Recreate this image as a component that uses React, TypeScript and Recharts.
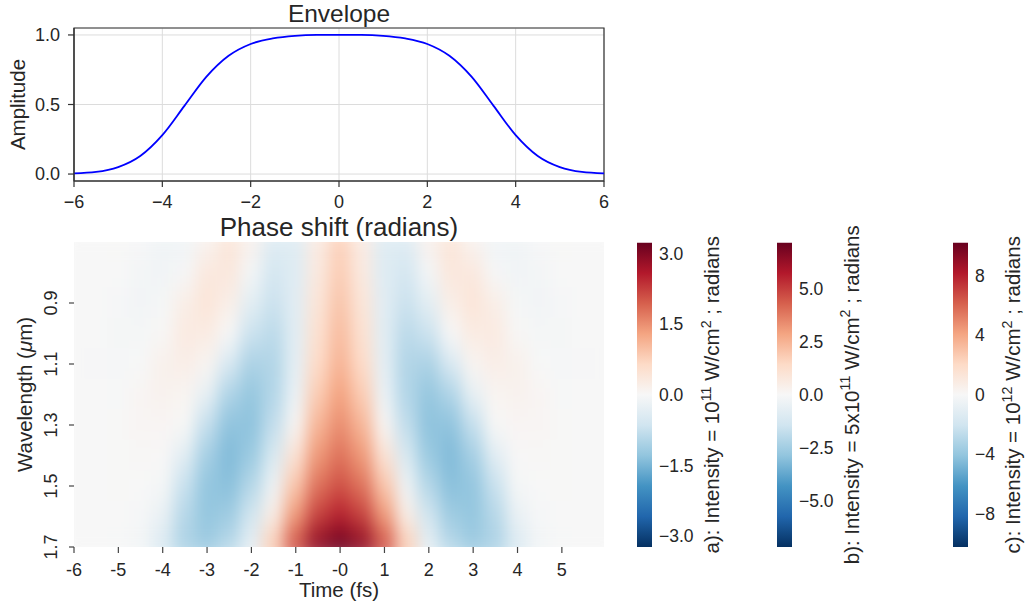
import React from 'react';
import { LineChart, Line, XAxis, YAxis, CartesianGrid, ReferenceArea, ScatterChart, Scatter, BarChart, Bar } from 'recharts';

const FONT = '"Liberation Sans", Arial, Helvetica, sans-serif';
const INK = '#262626';
const TICK_FS = 18;
const CB_TICK_FS = 17.5;
const LABEL_FS = 20.5;
const TITLE_FS = 24.5;
const HEAT_TITLE_FS = 26;

// ---------------- Envelope (top panel) ----------------
const envelopeTime = [-6, -5.5, -5, -4.5, -4, -3.5, -3, -2.5, -2, -1.5, -1, -0.5, 0, 0.5, 1, 1.5, 2, 2.5, 3, 3.5, 4, 4.5, 5, 5.5, 6];
const envelopeAmplitude = [0.005, 0.015, 0.05, 0.13, 0.28, 0.49, 0.7, 0.85, 0.935, 0.975, 0.994, 1.0, 1.0, 1.0, 0.994, 0.975, 0.935, 0.85, 0.7, 0.49, 0.28, 0.13, 0.05, 0.015, 0.005];
const envelopeXTicks = [-6, -4, -2, 0, 2, 4, 6];
const envelopeYTicks = [0, 0.5, 1.0];

// ---------------- Phase shift map ----------------
const phaseTime = [-6, -5.5, -5, -4.5, -4, -3.5, -3, -2.5, -2, -1.5, -1, -0.5, 0, 0.5, 1, 1.5, 2, 2.5, 3, 3.5, 4, 4.5, 5, 5.5, 6];
const phaseWavelength = [0.7, 0.8, 0.9, 1.0, 1.1, 1.2, 1.3, 1.4, 1.5, 1.6, 1.7];
const phase070 = [0, 0, 0.01, -0.02, -0.12, -0.12, 0.1, 0.4, 0.15, -0.4, -0.4, 0.27, 0.75, 0.27, -0.4, -0.4, 0.15, 0.4, 0.1, -0.12, -0.12, -0.02, 0.01, 0, 0];
const phase080 = [0, 0, 0, -0.07, -0.12, -0.03, 0.34, 0.36, -0.07, -0.57, -0.4, 0.32, 0.8, 0.32, -0.4, -0.57, -0.07, 0.36, 0.34, -0.03, -0.12, -0.07, 0, 0, 0];
const phase090 = [0, 0, -0.04, -0.1, -0.05, 0.21, 0.42, 0.21, -0.34, -0.7, -0.38, 0.42, 0.9, 0.42, -0.38, -0.7, -0.34, 0.21, 0.42, 0.21, -0.05, -0.1, -0.04, 0, 0];
const phase100 = [0, 0, -0.05, -0.05, 0.03, 0.3, 0.28, 0, -0.69, -0.86, -0.37, 0.51, 1.0, 0.51, -0.37, -0.86, -0.69, 0, 0.28, 0.3, 0.03, -0.05, -0.05, 0, 0];
const phase110 = [0, -0.02, -0.03, -0.01, 0.16, 0.22, 0.08, -0.49, -1.03, -0.96, -0.32, 0.62, 1.1, 0.62, -0.32, -0.96, -1.03, -0.49, 0.08, 0.22, 0.16, -0.01, -0.03, -0.02, 0];
const phase120 = [0, 0, -0.01, 0.07, 0.13, 0.08, -0.26, -0.98, -1.25, -0.95, -0.22, 0.81, 1.3, 0.81, -0.22, -0.95, -1.25, -0.98, -0.26, 0.08, 0.13, 0.07, -0.01, 0, 0];
const phase130 = [0, 0, 0.01, 0.06, 0.06, 0.01, -0.76, -1.3, -1.32, -0.8, 0.05, 1.08, 1.5, 1.08, 0.05, -0.8, -1.32, -1.3, -0.76, 0.01, 0.06, 0.06, 0.01, 0, 0];
const phase140 = [0, 0, 0.01, 0.03, 0.02, -0.35, -1.09, -1.42, -1.2, -0.52, 0.45, 1.39, 1.75, 1.39, 0.45, -0.52, -1.2, -1.42, -1.09, -0.35, 0.02, 0.03, 0.01, 0, 0];
const phase150 = [0, 0, 0.01, 0, -0.05, -0.73, -1.27, -1.35, -0.93, -0.17, 0.89, 1.74, 2.05, 1.74, 0.89, -0.17, -0.93, -1.35, -1.27, -0.73, -0.05, 0, 0.01, 0, 0];
const phase160 = [0, 0, 0, -0.03, -0.24, -0.92, -1.26, -1.15, -0.61, 0.24, 1.39, 2.2, 2.5, 2.2, 1.39, 0.24, -0.61, -1.15, -1.26, -0.92, -0.24, -0.03, 0, 0, 0];
const phase170 = [0, 0, -0.01, -0.08, -0.48, -1.0, -1.15, -0.87, -0.28, 0.83, 2.06, 2.9, 3.2, 2.9, 2.06, 0.83, -0.28, -0.87, -1.15, -1.0, -0.48, -0.08, -0.01, 0, 0];
const phaseRows = [phase070, phase080, phase090, phase100, phase110, phase120, phase130, phase140, phase150, phase160, phase170];
const phaseXTicks = [-6, -5, -4, -3, -2, -1, 0, 1, 2, 3, 4, 5];
const phaseYTicks = [0.9, 1.1, 1.3, 1.5, 1.7];
const phaseTimeMax = 5.95;

// ---------------- Colorbars ----------------
const colorbarMax = [3.23, 7.21, 10.23];
const colorbarTicksA = [-3, -1.5, 0, 1.5, 3];
const colorbarTicksB = [-5, -2.5, 0, 2.5, 5];
const colorbarTicksC = [-8, -4, 0, 4, 8];
const colorbarPrefix = ['a): Intensity = 10', 'b): Intensity = 5x10', 'c): Intensity = 10'];
const colorbarExponent = ['11', '11', '12'];

// ---------------- colormap (RdBu_r) ----------------
const RDBU_R = ['#053061', '#2166ac', '#4393c3', '#92c5de', '#d1e5f0', '#f7f7f7', '#fddbc7', '#f4a582', '#d6604d', '#b2182b', '#67001f'];
const RDBU_RGB = RDBU_R.map((h) => [parseInt(h.slice(1, 3), 16), parseInt(h.slice(3, 5), 16), parseInt(h.slice(5, 7), 16)]);
function cmap(n: number): string {
  const c = Math.min(1, Math.max(0, n)) * 10;
  const i = Math.min(9, Math.floor(c));
  const f = c - i;
  const a = RDBU_RGB[i];
  const b = RDBU_RGB[i + 1];
  const m = (k: number) => Math.round(a[k] + (b[k] - a[k]) * f);
  return `rgb(${m(0)},${m(1)},${m(2)})`;
}

const minusFmt = (v: number | string) => String(v).replace('-', '\u2212');

// layout
const PLOT_LEFT = 74;
const PLOT_W = 530;
const HEAT_H = 305;
const CELL_W = (0.5 * PLOT_W) / (phaseTimeMax + 6);
const CELL_H = 0.1 * HEAT_H;
const heatVmax = colorbarMax[0];

const envelopeData = envelopeTime.map((t, i) => ({ t, a: envelopeAmplitude[i] }));
const heatData: { t: number; w: number; v: number }[] = [];
phaseRows.forEach((row, i) => {
  row.forEach((v, j) => heatData.push({ t: phaseTime[j], w: phaseWavelength[i], v }));
});

function HeatCell(props: any) {
  const { cx, cy, payload } = props;
  if (cx == null || cy == null || !payload) return null;
  return (
    <rect
      x={cx - CELL_W / 2 - 0.5}
      y={cy - CELL_H / 2 - 0.5}
      width={CELL_W + 1}
      height={CELL_H + 1}
      fill={cmap(0.5 + payload.v / (2 * heatVmax))}
    />
  );
}

function RotText({ cx, cy, fs, children }: { cx: number; cy: number; fs: number; children: React.ReactNode }) {
  const bx = cx + 0.35 * fs;
  return (
    <text x={bx} y={cy} transform={`rotate(-90 ${bx} ${cy})`} textAnchor="middle" fontSize={fs} fill={INK} fontFamily={FONT}>
      {children}
    </text>
  );
}

function HeatYTick(props: any) {
  const { x, y, payload } = props;
  return (
    <RotText cx={x - 16} cy={y} fs={TICK_FS}>
      {payload.value.toFixed(1)}
    </RotText>
  );
}

function Colorbar({ idx, left, ticks, fmt, labelGap, axisWidth }: any) {
  const max = colorbarMax[idx];
  const data = [{ k: 'cb', r: [-max, max] }];
  const renderLabel = (p: any) => {
    const vb = p.viewBox || { x: 15, y: 242.5, width: axisWidth, height: 304.5 };
    const cx = vb.x + labelGap;
    const cy = vb.y + vb.height / 2;
    const s = LABEL_FS * 0.7;
    const up = LABEL_FS * 0.42;
    return (
      <RotText cx={cx} cy={cy} fs={LABEL_FS}>
        {colorbarPrefix[idx]}
        <tspan fontSize={s} dy={-up}>{colorbarExponent[idx]}</tspan>
        <tspan dy={up}>{' W/cm'}</tspan>
        <tspan fontSize={s} dy={-up}>2</tspan>
        <tspan dy={up}>{' ; radians'}</tspan>
      </RotText>
    );
  };
  return (
    <div style={{ position: 'absolute', left, top: 0 }}>
      <BarChart width={15 + axisWidth} height={608} data={data} margin={{ top: 242.5, right: 0, bottom: 61, left: 0 }} barCategoryGap={0} barGap={0}>
        <XAxis dataKey="k" type="category" hide />
        <YAxis
          orientation="right"
          type="number"
          domain={[-max, max]}
          allowDataOverflow
          ticks={ticks}
          interval={0}
          tickFormatter={fmt}
          tickLine={false}
          axisLine={false}
          tickSize={5}
          tickMargin={2}
          width={axisWidth}
          tick={{ fill: INK, fontSize: CB_TICK_FS, fontFamily: FONT }}
          label={renderLabel}
        />
        <Bar dataKey="r" fill="url(#cbGrad)" isAnimationActive={false} />
      </BarChart>
    </div>
  );
}

export default function App() {
  const tickStyle = { fill: INK, fontSize: TICK_FS, fontFamily: FONT };
  return (
    <div style={{ position: 'absolute', left: 0, top: 0, width: 1026, height: 608, overflow: 'hidden', background: '#ffffff', fontFamily: FONT }}>
      <style>{`.heat-chart .recharts-scatter { filter: url(#heatBlur); }`}</style>
      <svg width={0} height={0} style={{ position: 'absolute' }}>
        <defs>
          <linearGradient id="cbGrad" x1="0" y1="1" x2="0" y2="0">
            {RDBU_R.map((c, i) => (
              <stop key={i} offset={`${i * 10}%`} stopColor={c} />
            ))}
          </linearGradient>
        </defs>
      </svg>

      {/* Envelope */}
      <div style={{ position: 'absolute', left: 0, top: 0 }}>
        <LineChart width={620} height={215} data={envelopeData} margin={{ top: 28, right: 620 - PLOT_LEFT - PLOT_W, bottom: 4, left: 0 }}>
          <CartesianGrid stroke="#dcdcdc" strokeWidth={1} />
          <XAxis dataKey="t" type="number" domain={[-6, 6]} allowDataOverflow ticks={envelopeXTicks} interval={0} tickFormatter={minusFmt} tick={tickStyle} tickSize={6} tickMargin={8} tickLine={{ stroke: '#333', strokeWidth: 1.2 }} axisLine={{ stroke: '#333', strokeWidth: 1.2 }} height={30} />
          <YAxis
            type="number"
            domain={[-0.05, 1.05]}
            allowDataOverflow
            ticks={envelopeYTicks}
            interval={0}
            tickFormatter={(v: number) => v.toFixed(1)}
            tick={tickStyle}
            tickSize={6}
            tickMargin={8}
            tickLine={{ stroke: '#333', strokeWidth: 1.2 }}
            axisLine={{ stroke: '#333', strokeWidth: 1.2 }}
            width={PLOT_LEFT}
            label={(p: any) => {
              const vb = p.viewBox || { x: 0, y: 28, width: 74, height: 153 };
              return (
                <RotText cx={vb.x + 18} cy={vb.y + vb.height / 2} fs={LABEL_FS}>
                  Amplitude
                </RotText>
              );
            }}
          />
          <Line dataKey="a" type="monotone" stroke="#0000ff" strokeWidth={1.8} dot={false} isAnimationActive={false} />
          <ReferenceArea x1={-6} x2={6} y1={-0.05} y2={1.05} fill="none" fillOpacity={0} stroke="#333" strokeWidth={1.2} />
          <text x={PLOT_LEFT + PLOT_W / 2} y={22} textAnchor="middle" fontSize={TITLE_FS} fill={INK} fontFamily={FONT}>
            Envelope
          </text>
        </LineChart>
      </div>

      {/* Phase shift map */}
      <div className="heat-chart" style={{ position: 'absolute', left: 0, top: 200 }}>
        <ScatterChart width={620} height={408} margin={{ top: 42, right: 620 - PLOT_LEFT - PLOT_W, bottom: 6, left: 0 }}>
          <defs>
            <filter id="heatBlur" x="0" y="0" width="1" height="1" colorInterpolationFilters="sRGB">
              <feGaussianBlur stdDeviation="7.5 14" edgeMode="duplicate" />
            </filter>
          </defs>
          <XAxis
            dataKey="t"
            type="number"
            domain={[-6, phaseTimeMax]}
            allowDataOverflow
            ticks={phaseXTicks}
            interval={0}
            tickFormatter={(v: number) => (v === 0 ? '-0' : String(v))}
            tick={tickStyle}
            tickSize={6}
            tickMargin={10}
            tickLine={{ stroke: '#444', strokeWidth: 1.2 }}
            axisLine={false}
            height={55}
            label={(p: any) => {
              const vb = p.viewBox || { x: 74, y: 347, width: 530, height: 55 };
              return (
                <text x={vb.x + vb.width / 2} y={vb.y + 50} textAnchor="middle" fontSize={LABEL_FS} fill={INK} fontFamily={FONT}>
                  Time (fs)
                </text>
              );
            }}
          />
          <YAxis
            dataKey="w"
            type="number"
            domain={[0.7, 1.7]}
            reversed
            allowDataOverflow
            ticks={phaseYTicks}
            interval={0}
            tick={<HeatYTick />}
            tickSize={5}
            tickMargin={2}
            tickLine={{ stroke: '#444', strokeWidth: 1.2 }}
            axisLine={false}
            width={PLOT_LEFT}
            label={(p: any) => {
              const vb = p.viewBox || { x: 0, y: 42, width: 74, height: 305 };
              return (
                <RotText cx={vb.x + 25} cy={vb.y + vb.height / 2} fs={LABEL_FS}>
                  Wavelength (<tspan fontStyle="italic">μ</tspan>m)
                </RotText>
              );
            }}
          />
          <Scatter data={heatData} shape={HeatCell} isAnimationActive={false} />
          <text x={PLOT_LEFT + PLOT_W / 2} y={36} textAnchor="middle" fontSize={HEAT_TITLE_FS} fill={INK} fontFamily={FONT}>
            Phase shift (radians)
          </text>
        </ScatterChart>
      </div>

      <Colorbar idx={0} left={637} ticks={colorbarTicksA} fmt={(v: number) => minusFmt(v.toFixed(1))} labelGap={60} axisWidth={100} />
      <Colorbar idx={1} left={777} ticks={colorbarTicksB} fmt={(v: number) => minusFmt(v.toFixed(1))} labelGap={59.5} axisWidth={100} />
      <Colorbar idx={2} left={953} ticks={colorbarTicksC} fmt={(v: number) => minusFmt(v)} labelGap={45} axisWidth={73} />
    </div>
  );
}
